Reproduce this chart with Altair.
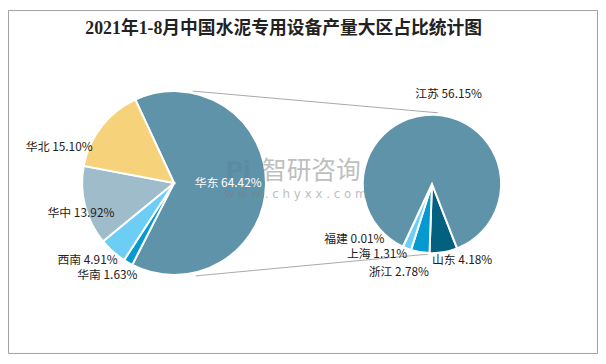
import math
import altair as alt
import pandas as pd

# ---------------- data ----------------
title_text = "2021年1-8月中国水泥专用设备产量大区占比统计图"

left_names = ["华东", "华南", "西南", "华中", "华北"]
left_values = [64.42, 1.63, 4.91, 13.92, 15.10]

right_names = ["山东", "浙江", "上海", "福建", "江苏"]
right_values = [4.18, 2.78, 1.31, 0.01, 56.15]

# ---------------- styles / layout ----------------
left_colors = ["#5E93A9", "#0799D0", "#6CCEF5", "#9FBCCB", "#F6D37B"]
right_colors = ["#03617F", "#0399D1", "#6DCFF6", "#9FBCCB", "#5E93A9"]
left_text_colors = ["#FFFFFF", "#222222", "#222222", "#222222", "#222222"]
right_text_colors = ["#222222"] * 5

left_label_x = [189, 70, 50, 40, 18]
left_label_y = [175, 268, 253, 205, 139]
right_label_x = [429, 365, 343, 320, 412]
right_label_y = [253, 265, 247, 232, 85]

W, H = 597, 348
LCX, LCY, LR = 168, 175, 93
RCX, RCY, RR = 429, 176, 70
L0 = 2 * math.pi - math.radians(24.9)
R0 = math.radians(158.7)

FONT = "Noto Sans CJK SC"

left_df = pd.DataFrame({
    "name": left_names, "value": left_values, "idx": list(range(len(left_names))),
    "color": left_colors,
})
right_df = pd.DataFrame({
    "name": right_names, "value": right_values, "idx": list(range(len(right_names))),
    "color": right_colors,
})


def make_labels(names, values, xs, ys, colors):
    return pd.DataFrame({
        "label": [f"{n} {v:.2f}%" for n, v in zip(names, values)],
        "lx": xs, "ly": ys, "tc": colors,
    })


left_lab = make_labels(left_names, left_values, left_label_x, left_label_y, left_text_colors)
right_lab = make_labels(right_names, right_values, right_label_x, right_label_y, right_text_colors)

one = pd.DataFrame({"k": [0]})

border = alt.Chart(one).mark_rect(fillOpacity=0, stroke="#A0A0A0", strokeWidth=1).encode(
    x=alt.value(0.5), x2=alt.value(W - 0.5), y=alt.value(0.5), y2=alt.value(H - 0.5)
)

line_top = alt.Chart(one).mark_rule(color="#A8A8A8", strokeWidth=1).encode(
    x=alt.value(187), y=alt.value(82), x2=alt.value(435), y2=alt.value(104)
)
line_bot = alt.Chart(one).mark_rule(color="#A8A8A8", strokeWidth=1).encode(
    x=alt.value(190), y=alt.value(269), x2=alt.value(425), y2=alt.value(247)
)

left_pie = alt.Chart(left_df).mark_arc(outerRadius=LR, stroke="white", strokeWidth=2).encode(
    theta=alt.Theta("value:Q", stack=True, scale=alt.Scale(range=[L0, L0 + 2 * math.pi])),
    order=alt.Order("idx:Q"),
    color=alt.Color("color:N", scale=None),
    x=alt.value(LCX), y=alt.value(LCY),
)

right_pie = alt.Chart(right_df).mark_arc(outerRadius=RR, stroke="white", strokeWidth=2).encode(
    theta=alt.Theta("value:Q", stack=True, scale=alt.Scale(range=[R0, R0 + 2 * math.pi])),
    order=alt.Order("idx:Q"),
    color=alt.Color("color:N", scale=None),
    x=alt.value(RCX), y=alt.value(RCY),
)

def label_layer(df):
    return alt.Chart(df).mark_text(
        align="left", baseline="middle", font=FONT, fontSize=12
    ).encode(
        x=alt.X("lx:Q", scale=None, axis=None),
        y=alt.Y("ly:Q", scale=None, axis=None),
        text="label:N",
        color=alt.Color("tc:N", scale=None),
    )

wm_df = pd.DataFrame({"t": ["智研咨询"], "w": ["w w w . c h y x x . c o m"], "p": ["Pi"]})
wm_logo = alt.Chart(wm_df).mark_text(
    align="left", baseline="middle", font="DejaVu Sans", fontSize=24, fontWeight="bold",
    color="#5A7FA0", opacity=0.35,
).encode(x=alt.value(220), y=alt.value(163), text="p:N")
wm_name = alt.Chart(wm_df).mark_text(
    align="left", baseline="middle", font=FONT, fontSize=25, color="#808080", opacity=0.5,
).encode(x=alt.value(257), y=alt.value(163), text="t:N")
wm_url = alt.Chart(wm_df).mark_text(
    align="left", baseline="middle", font="DejaVu Sans", fontSize=12, color="#808080", opacity=0.5,
).encode(x=alt.value(219), y=alt.value(186), text="w:N")

title = alt.Chart(pd.DataFrame({"t": [title_text]})).mark_text(
    align="center", baseline="middle", font="Liberation Serif, " + FONT, fontSize=18,
    fontWeight="bold", color="#222222",
).encode(x=alt.value(279), y=alt.value(19.5), text="t:N")

chart = alt.layer(
    border, line_top, line_bot, left_pie, right_pie,
    label_layer(left_lab), label_layer(right_lab),
    wm_logo, wm_name, wm_url, title,
).resolve_scale(theta="independent", color="independent").properties(
    width=W, height=H, padding=0, autosize=alt.AutoSizeParams(type="none"),
    background="white",
).configure_view(strokeWidth=0)

chart.save("out.html", embed_options={"renderer": "svg", "actions": False})
